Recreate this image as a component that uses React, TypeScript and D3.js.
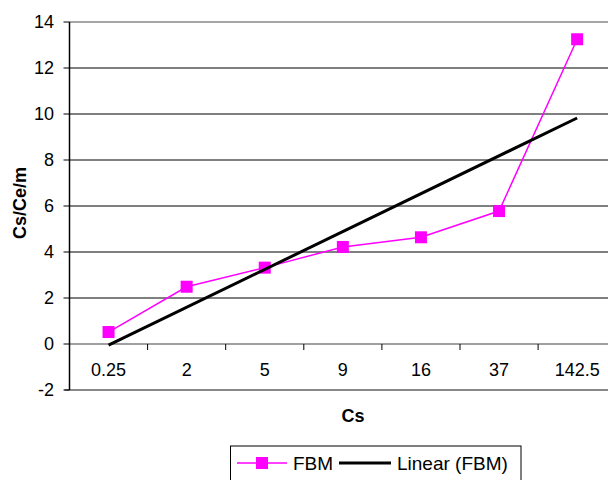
import React from "react";
import * as d3 from "d3";

const categories = ["0.25", "2", "5", "9", "16", "37", "142.5"];
const fbmValues = [0.52, 2.49, 3.32, 4.22, 4.64, 5.78, 13.25];
const yTicks = [-2, 0, 2, 4, 6, 8, 10, 12, 14];
const seriesName = "FBM";
const trendName = "Linear (FBM)";
const xTitle = "Cs";
const yTitle = "Cs/Ce/m";

const W = 608;
const H = 480;
const left = 69.5;
const band = 78.1;
const right = left + band * categories.length;
const top = 22;
const bottom = 390;
const font = "'Liberation Sans', Arial, sans-serif";

export default function App() {
  const x = d3
    .scaleBand<string>()
    .domain(categories)
    .range([left, right])
    .paddingInner(0)
    .paddingOuter(0);
  const y = d3.scaleLinear().domain([-2, 14]).range([bottom, top]);
  const cx = (c: string) => (x(c) ?? 0) + x.bandwidth() / 2;

  // linear regression on category index (Excel trendline)
  const idx = fbmValues.map((_, i) => i + 1);
  const mx = d3.mean(idx) as number;
  const my = d3.mean(fbmValues) as number;
  const sxy = d3.sum(idx.map((v, i) => (v - mx) * (fbmValues[i] - my)));
  const sxx = d3.sum(idx.map((v) => (v - mx) * (v - mx)));
  const slope = sxy / sxx;
  const intercept = my - slope * mx;
  const trend = [1, categories.length].map((i) => ({
    c: categories[i - 1],
    v: intercept + slope * i,
  }));

  const line = d3
    .line<{ c: string; v: number }>()
    .x((d) => cx(d.c))
    .y((d) => y(d.v));
  const pts = categories.map((c, i) => ({ c, v: fbmValues[i] }));

  const ms = 12;

  return (
    <svg
      width={W}
      height={H}
      style={{ position: "absolute", left: 0, top: 0, background: "#fff" }}
      fontFamily={font}
    >
      <rect x={0} y={0} width={W} height={H} fill="#fff" />
      {/* gridlines */}
      {yTicks
        .filter((t) => t !== 0 && t !== -2 && t !== 14)
        .map((t) => (
          <line key={t} x1={left} x2={W} y1={y(t)} y2={y(t)} stroke="#000" strokeWidth={1} />
        ))}
      {/* top border */}
      <line x1={left} x2={W} y1={y(14)} y2={y(14)} stroke="#888" strokeWidth={1.5} />
      {/* bottom border */}
      <line x1={left - 5} x2={W} y1={bottom} y2={bottom} stroke="#888" strokeWidth={2} />
      {/* zero axis */}
      <line x1={left} x2={W} y1={y(0)} y2={y(0)} stroke="#808080" strokeWidth={1.5} />
      {categories.slice(1).map((c) => (
        <line key={c} x1={x(c)} x2={x(c)} y1={y(0)} y2={y(0) + 6} stroke="#000" strokeWidth={1} />
      ))}
      {/* y axis */}
      <line x1={left} x2={left} y1={top} y2={bottom} stroke="#000" strokeWidth={1.5} />
      {yTicks.map((t) => (
        <g key={t}>
          <line x1={left - 6} x2={left} y1={y(t)} y2={y(t)} stroke="#000" strokeWidth={1} />
          <text x={54} y={y(t)} dy="0.35em" textAnchor="end" fontSize={18} fill="#000">
            {t}
          </text>
        </g>
      ))}
      {/* category labels */}
      {categories.map((c) => (
        <text key={c} x={cx(c)} y={370} dy="0.35em" textAnchor="middle" fontSize={18} fill="#000">
          {c}
        </text>
      ))}
      {/* titles */}
      <text x={353} y={416} dy="0.35em" textAnchor="middle" fontSize={18} fontWeight="bold">
        {xTitle}
      </text>
      <text
        transform={`translate(20,203) rotate(-90)`}
        dy="0.35em"
        textAnchor="middle"
        fontSize={18}
        fontWeight="bold"
      >
        {yTitle}
      </text>
      {/* series */}
      <path d={line(pts) ?? ""} fill="none" stroke="#ff00ff" strokeWidth={1.5} />
      {pts.map((p) => (
        <rect key={p.c} x={cx(p.c) - ms / 2} y={y(p.v) - ms / 2} width={ms} height={ms} fill="#ff00ff" />
      ))}
      <path d={line(trend) ?? ""} fill="none" stroke="#000" strokeWidth={3} />
      {/* legend */}
      <rect x={230.5} y={446} width={290.5} height={40} fill="#fff" stroke="#000" strokeWidth={1} />
      <line x1={237} x2={287} y1={463} y2={463} stroke="#ff00ff" strokeWidth={1.5} />
      <rect x={262 - ms / 2} y={463 - ms / 2} width={ms} height={ms} fill="#ff00ff" />
      <text x={293} y={463} dy="0.35em" fontSize={19}>
        {seriesName}
      </text>
      <line x1={339} x2={391} y1={463} y2={463} stroke="#000" strokeWidth={3} />
      <text x={397} y={463} dy="0.35em" fontSize={19}>
        {trendName}
      </text>
    </svg>
  );
}
